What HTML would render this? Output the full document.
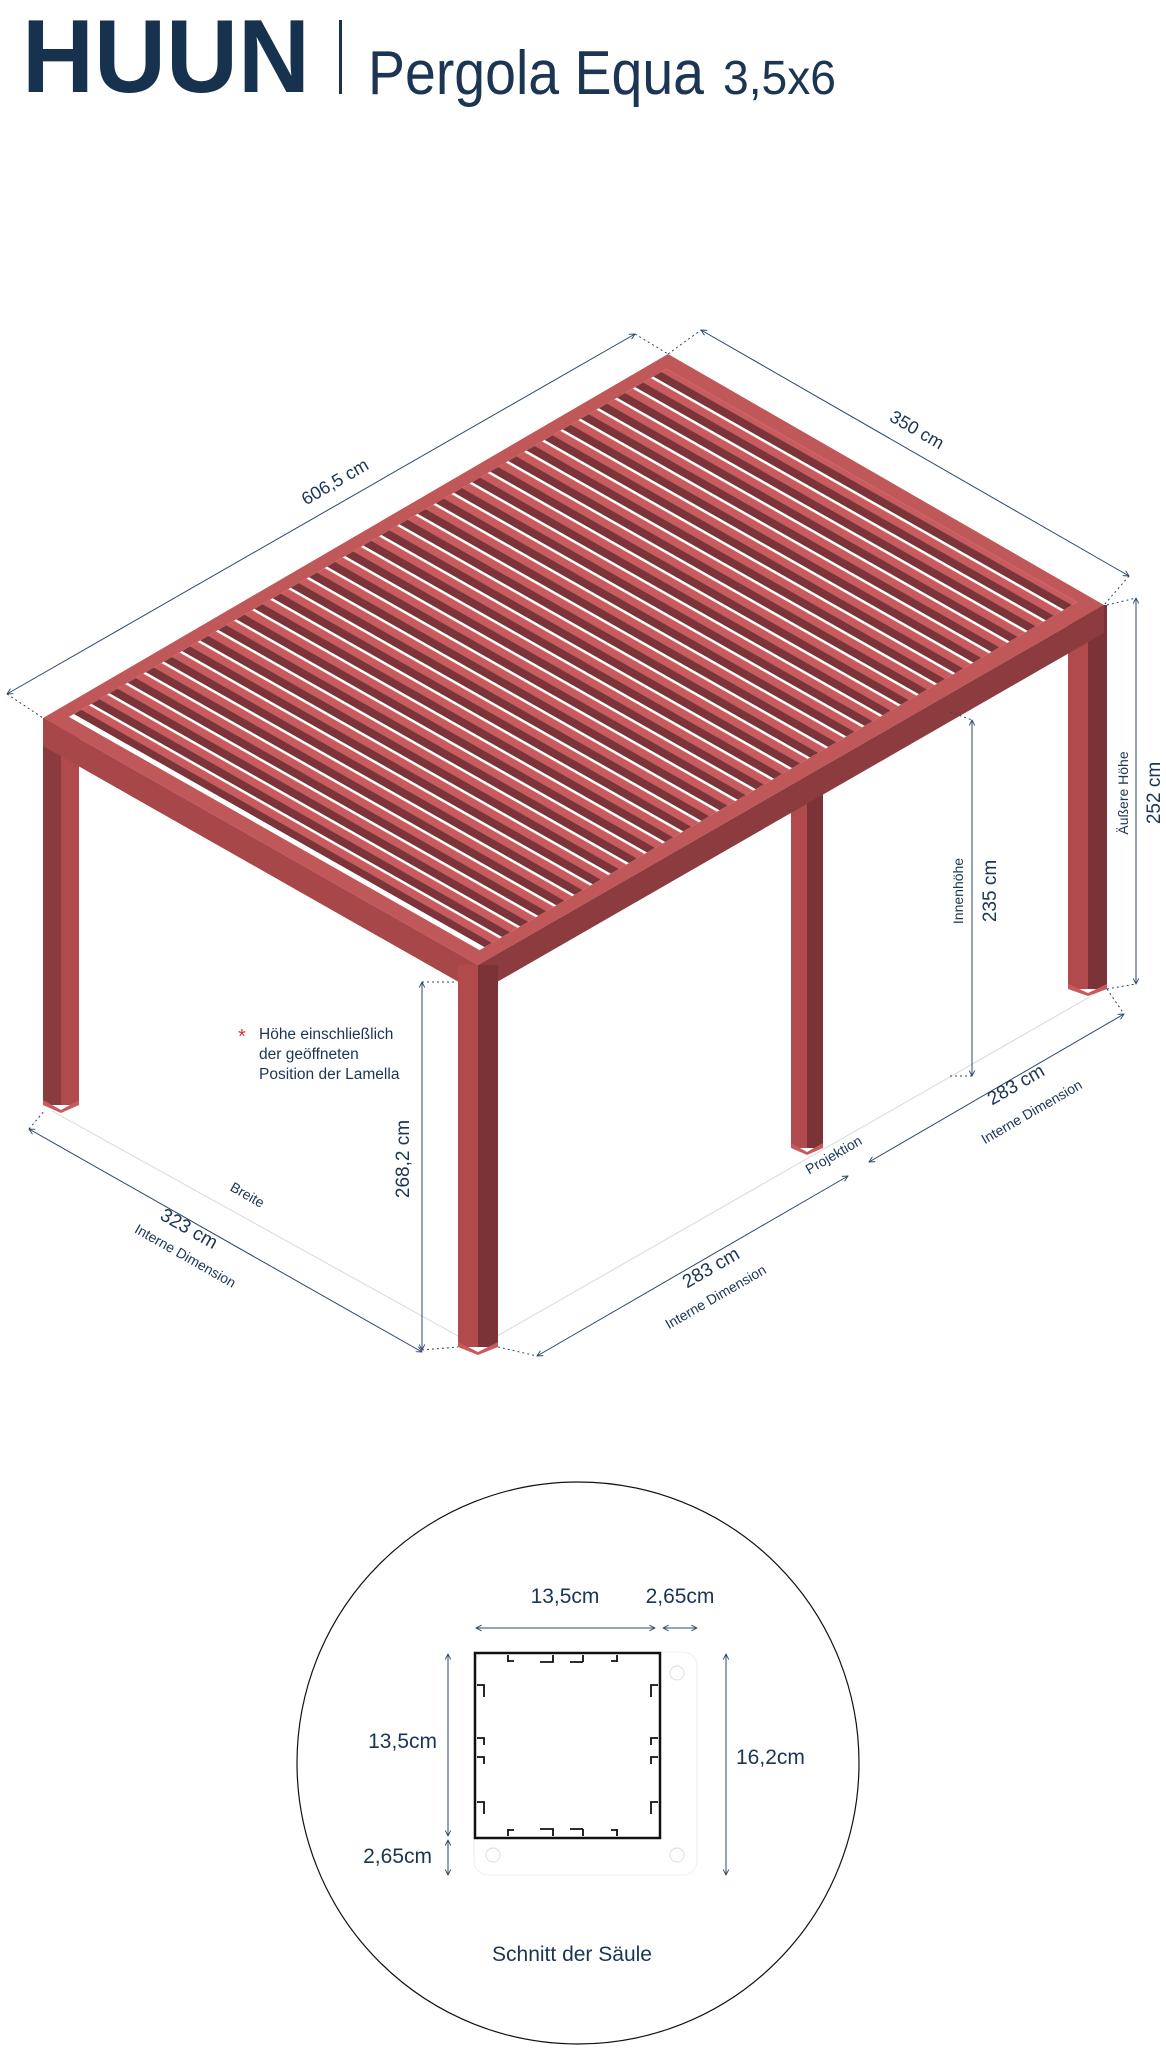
<!DOCTYPE html>
<html><head><meta charset="utf-8">
<style>
html,body{margin:0;padding:0;background:#fff;}
body{width:1166px;height:2048px;overflow:hidden;position:relative;font-family:"Liberation Sans",sans-serif;}
svg{position:absolute;left:0;top:0;}
</style></head>
<body>
<svg width="1166" height="2048" viewBox="0 0 1166 2048" xmlns="http://www.w3.org/2000/svg" font-family="Liberation Sans, sans-serif">
<defs>
<marker id="ar" viewBox="0 0 10 10" refX="9" refY="5" markerWidth="7" markerHeight="7" orient="auto-start-reverse">
<path d="M1,1 L9,5 L1,9" fill="none" stroke="#2b4768" stroke-width="1.3"/>
</marker>
<pattern id="sl" patternUnits="userSpaceOnUse" width="1000" height="29">
<rect x="0" y="0" width="1000" height="13" fill="#7b3438"/>
<rect x="0" y="13" width="1000" height="12" fill="#c95b5e"/>
</pattern>
</defs>

<!-- Header -->
<text x="22" y="92" font-size="104" font-weight="bold" fill="#17324f" textLength="288" lengthAdjust="spacingAndGlyphs">HUUN</text>
<rect x="339" y="20" width="3" height="74" fill="#17324f"/>
<text x="368" y="94" font-size="62" fill="#1b3553" textLength="336" lengthAdjust="spacingAndGlyphs">Pergola Equa</text>
<text x="723" y="94" font-size="48" fill="#1b3553" textLength="113" lengthAdjust="spacingAndGlyphs">3,5x6</text>

<!-- ground lines -->
<g stroke="#d9d9d9" stroke-width="1" fill="none">
<line x1="52" y1="1111" x2="478" y2="1347"/>
<line x1="478" y1="1347" x2="1100" y2="991"/>
</g>

<!-- back post behind slats -->
<rect x="652" y="420" width="38" height="330" fill="#7d3437"/>

<!-- posts -->
<rect x="43" y="718" width="18" height="387" fill="#8b3b3e"/>
<rect x="61" y="718" width="18" height="387" fill="#b04a4c"/>
<polygon points="43,1100 61,1110 79,1100 79,1105 61,1113 43,1105" fill="#c65a5c"/>
<rect x="1068" y="605" width="20" height="384" fill="#b04a4c"/>
<rect x="1088" y="605" width="19" height="384" fill="#7b3337"/>
<polygon points="1068,984 1088,993 1107,984 1107,989 1088,996 1068,989" fill="#c65a5c"/>
<rect x="791" y="786" width="16" height="362" fill="#b04a4c"/>
<rect x="807" y="786" width="16" height="362" fill="#7b3337"/>
<polygon points="791,1143 807,1152 823,1143 823,1148 807,1155 791,1148" fill="#c65a5c"/>

<!-- roof top -->
<polygon points="43,718 478,965 1104,605 668,354" fill="#c0585a"/>
<g transform="matrix(0.435,0.247,0.625,-0.364,43,718)">
<rect x="28" y="22" width="944" height="956" fill="#fff"/>
<rect x="28" y="30" width="944" height="948" fill="url(#sl)"/>
</g>
<!-- beam outer faces -->
<polygon points="43,718 478,965 478,993 43,746" fill="#a8474a"/>
<polygon points="478,965 1104,605 1104,633 478,993" fill="#8c3c3f"/>
<!-- front post -->
<rect x="458" y="993" width="20" height="354" fill="#b04a4c"/>
<rect x="478" y="993" width="20" height="354" fill="#7b3337"/>
<rect x="458" y="965" width="20" height="28" fill="#b04a4c"/>
<rect x="478" y="965" width="20" height="28" fill="#7b3337"/>
<polygon points="458,1342 478,1352 498,1342 498,1347 478,1355 458,1347" fill="#c65a5c"/>

<!-- dimension lines -->
<g stroke="#2b4768" stroke-width="1" fill="none">
<line x1="7" y1="694" x2="635" y2="334" marker-start="url(#ar)" marker-end="url(#ar)"/>
<line x1="701" y1="330" x2="1129" y2="576" marker-start="url(#ar)" marker-end="url(#ar)"/>
<line x1="1136" y1="598" x2="1136" y2="984" marker-start="url(#ar)" marker-end="url(#ar)"/>
<line x1="972" y1="720" x2="972" y2="1076" marker-start="url(#ar)" marker-end="url(#ar)"/>
<line x1="422" y1="982" x2="422" y2="1350" marker-start="url(#ar)" marker-end="url(#ar)"/>
<line x1="29" y1="1129" x2="422" y2="1352" marker-start="url(#ar)" marker-end="url(#ar)"/>
<line x1="537" y1="1356" x2="848" y2="1176" marker-start="url(#ar)" marker-end="url(#ar)"/>
<line x1="869" y1="1162" x2="1124" y2="1014" marker-start="url(#ar)" marker-end="url(#ar)"/>
</g>
<g stroke="#2b4768" stroke-width="1" stroke-dasharray="2,3" fill="none">
<line x1="7" y1="694" x2="43" y2="718"/>
<line x1="635" y1="334" x2="668" y2="354"/>
<line x1="668" y1="354" x2="701" y2="330"/>
<line x1="1129" y1="576" x2="1104" y2="605"/>
<line x1="1107" y1="605" x2="1136" y2="598"/>
<line x1="1107" y1="989" x2="1136" y2="984"/>
<line x1="1107" y1="989" x2="1124" y2="1014"/>
<line x1="950" y1="712" x2="972" y2="720"/>
<line x1="950" y1="1076" x2="972" y2="1076"/>
<line x1="422" y1="982" x2="455" y2="982"/>
<line x1="422" y1="1350" x2="458" y2="1347"/>
<line x1="29" y1="1129" x2="45" y2="1110"/>
<line x1="498" y1="1347" x2="537" y2="1356"/>
</g>

<g fill="#1b3553">
<text transform="translate(338,487) rotate(-30.2)" font-size="18" text-anchor="middle">606,5 cm</text>
<text transform="translate(914,435) rotate(29.9)" font-size="18" text-anchor="middle">350 cm</text>
<text transform="translate(1128,793) rotate(-90)" font-size="14" text-anchor="middle">Äußere Höhe</text>
<text transform="translate(1160,793) rotate(-90)" font-size="19" text-anchor="middle">252 cm</text>
<text transform="translate(963,891) rotate(-90)" font-size="14" text-anchor="middle">Innenhöhe</text>
<text transform="translate(996,891) rotate(-90)" font-size="19" text-anchor="middle">235 cm</text>
<text transform="translate(409,1159) rotate(-90)" font-size="19" text-anchor="middle">268,2 cm</text>
<text transform="translate(245,1199) rotate(29.6)" font-size="14" text-anchor="middle">Breite</text>
<text transform="translate(186,1234) rotate(29.6)" font-size="19" text-anchor="middle">323 cm</text>
<text transform="translate(183,1260) rotate(29.6)" font-size="14" text-anchor="middle">Interne Dimension</text>
<text transform="translate(714,1273) rotate(-30)" font-size="19" text-anchor="middle">283 cm</text>
<text transform="translate(718,1301) rotate(-30)" font-size="14" text-anchor="middle">Interne Dimension</text>
<text transform="translate(836,1159) rotate(-30)" font-size="14" text-anchor="middle">Projektion</text>
<text transform="translate(1019,1090) rotate(-30)" font-size="19" text-anchor="middle">283 cm</text>
<text transform="translate(1034,1116) rotate(-30)" font-size="14" text-anchor="middle">Interne Dimension</text>
<text x="259" y="1039" font-size="15.5">Höhe einschließlich</text>
<text x="259" y="1059" font-size="15.5">der geöffneten</text>
<text x="259" y="1079" font-size="15.5">Position der Lamella</text>
</g>
<text x="238" y="1043" font-size="20" fill="#e0302f">*</text>

<!-- Section circle -->
<circle cx="578" cy="1763" r="281" fill="none" stroke="#111" stroke-width="1.2"/>
<rect x="474" y="1652" width="223" height="223" rx="14" fill="none" stroke="#eee" stroke-width="1"/>
<circle cx="677" cy="1673" r="7" fill="none" stroke="#ddd"/>
<circle cx="493" cy="1855" r="7" fill="none" stroke="#ddd"/>
<circle cx="677" cy="1855" r="7" fill="none" stroke="#ddd"/>
<rect x="475" y="1653" width="185" height="185" fill="none" stroke="#111" stroke-width="2.5"/>
<g stroke="#111" stroke-width="1.8" fill="none">
<path d="M508,1662 V1655 M508,1661 H514 M540,1662 H553 V1655 M570,1662 H583 M583,1662 V1655 M617,1662 V1655 M611,1661 H617"/>
<path d="M508,1829 V1836 M508,1830 H514 M540,1829 H553 V1836 M570,1829 H583 M583,1829 V1836 M617,1829 V1836 M611,1830 H617"/>
<path d="M477,1685 H484 V1697 M477,1738 H484 V1745 M477,1757 H484 V1764 M477,1802 H484 V1814"/>
<path d="M658,1685 H651 V1697 M658,1738 H651 V1745 M658,1757 H651 V1764 M658,1802 H651 V1814"/>
</g>
<g stroke="#2b4768" stroke-width="1" fill="none">
<line x1="476" y1="1628" x2="655" y2="1628" marker-start="url(#ar)" marker-end="url(#ar)"/>
<line x1="663" y1="1628" x2="697" y2="1628" marker-start="url(#ar)" marker-end="url(#ar)"/>
<line x1="448" y1="1654" x2="448" y2="1836" marker-start="url(#ar)" marker-end="url(#ar)"/>
<line x1="448" y1="1840" x2="448" y2="1875" marker-start="url(#ar)" marker-end="url(#ar)"/>
<line x1="726" y1="1654" x2="726" y2="1875" marker-start="url(#ar)" marker-end="url(#ar)"/>
</g>
<g fill="#1b3553" font-size="21">
<text x="565" y="1603" text-anchor="middle">13,5cm</text>
<text x="680" y="1603" text-anchor="middle">2,65cm</text>
<text x="437" y="1748" text-anchor="end">13,5cm</text>
<text x="432" y="1863" text-anchor="end">2,65cm</text>
<text x="736" y="1764">16,2cm</text>
<text x="572" y="1961" text-anchor="middle">Schnitt der Säule</text>
</g>
</svg>
</body></html>
